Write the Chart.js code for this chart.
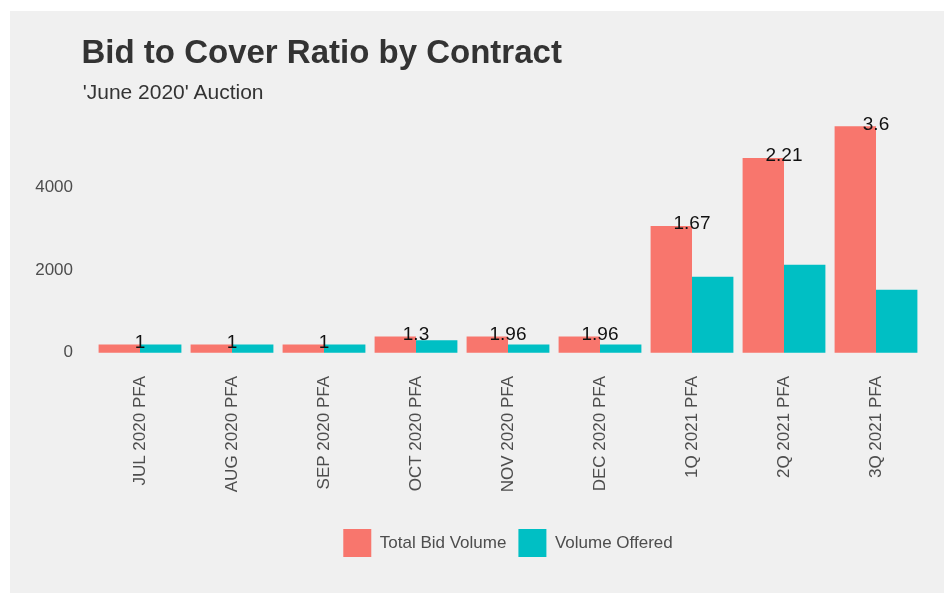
<!DOCTYPE html>
<html>
<head>
<meta charset="utf-8">
<script src="https://cdn.jsdelivr.net/npm/chart.js@4.4.0/dist/chart.umd.min.js"></script>
<style>
  body { margin: 0; background: #ffffff; }
  #panel { position: absolute; left: 10px; top: 11px; width: 934px; height: 582px; background: #f0f0f0; }
  #panel canvas { position: absolute; left: 0; top: 0; }
  .titulo { position: absolute; left: 71.5px; top: 24.4px; font: bold 33px/33px "Liberation Sans", Arial, sans-serif; color: #333333; white-space: nowrap; }
  .subtitulo { position: absolute; left: 72.7px; top: 69.5px; font: 21px/21px "Liberation Sans", Arial, sans-serif; color: #333333; white-space: nowrap; }
</style>
</head>
<body>
<div id="panel">
  <canvas id="graficoBidCover"></canvas>
  <div class="titulo">Bid to Cover Ratio by Contract</div>
  <div class="subtitulo">'June 2020' Auction</div>
</div>
<script>
const contracts = ['JUL 2020 PFA', 'AUG 2020 PFA', 'SEP 2020 PFA', 'OCT 2020 PFA', 'NOV 2020 PFA', 'DEC 2020 PFA', '1Q 2021 PFA', '2Q 2021 PFA', '3Q 2021 PFA']
const totalBidVolume = [200, 200, 200, 390, 392, 392, 3070, 4720, 5490]
const volumeOffered = [200, 200, 200, 300, 200, 200, 1840, 2135, 1525]
const coverRatios = ['1', '1', '1', '1.3', '1.96', '1.96', '1.67', '2.21', '3.6']
const yTicks = [0, 2000, 4000]

// ggplot style: 5% expansion on the value axis
let maximoVolume = Math.max(...totalBidVolume, ...volumeOffered)

const ratioLabels = {
    id: 'ratioLabels',
    afterDatasetsDraw(chart) {
        const { ctx, scales: { x, y } } = chart
        ctx.save()
        ctx.font = '19px "Liberation Sans", Arial, sans-serif'
        ctx.fillStyle = '#111111'
        ctx.textAlign = 'center'
        ctx.textBaseline = 'middle'
        for (let i = 0; i < coverRatios.length; i++) {
            ctx.fillText(coverRatios[i], x.getPixelForValue(i), y.getPixelForValue(totalBidVolume[i]) - 2)
        }
        ctx.restore()
    }
}

const corTexto = '#4d4d4d'
const fonte = '"Liberation Sans", Arial, sans-serif'

window.graficoBidCover = new Chart(document.getElementById('graficoBidCover'), {
    type: 'bar',
    data: {
        labels: contracts,
        datasets: [{
            label: 'Total Bid Volume',
            data: totalBidVolume,
            backgroundColor: '#F8766D',
            borderWidth: 0
        }, {
            label: 'Volume Offered',
            data: volumeOffered,
            backgroundColor: '#00BFC4',
            borderWidth: 0
        }]
    },
    options: {
        responsive: true,
        maintainAspectRatio: false,
        animation: false,
        datasets: {
            bar: {
                categoryPercentage: 0.9,
                barPercentage: 1
            }
        },
        layout: {
            padding: { top: 104, right: 22, bottom: 26, left: 0 }
        },
        plugins: {
            title: { display: false },
            tooltip: { enabled: false },
            legend: {
                position: 'bottom',
                fullSize: false,
                labels: {
                    boxWidth: 28,
                    boxHeight: 28,
                    padding: 12,
                    color: corTexto,
                    font: { family: fonte, size: 17 }
                }
            }
        },
        scales: {
            x: {
                grid: { display: false, drawTicks: false },
                border: { display: false },
                ticks: {
                    autoSkip: false,
                    minRotation: 90,
                    maxRotation: 90,
                    padding: 12,
                    color: corTexto,
                    font: { family: fonte, size: 17 }
                },
                afterFit: function (scale) {
                    scale.height = 153
                }
            },
            y: {
                min: -maximoVolume * 0.05,
                max: maximoVolume * 1.05,
                grid: { display: false, drawTicks: false },
                border: { display: false },
                ticks: {
                    padding: 21,
                    color: corTexto,
                    font: { family: fonte, size: 17 },
                    callback: function (value) {
                        return String(value)
                    }
                },
                afterBuildTicks: function (scale) {
                    scale.ticks = yTicks.map(v => ({ value: v }))
                },
                afterFit: function (scale) {
                    scale.width = 84
                }
            }
        }
    },
    plugins: [ratioLabels]
})
</script>
</body>
</html>
